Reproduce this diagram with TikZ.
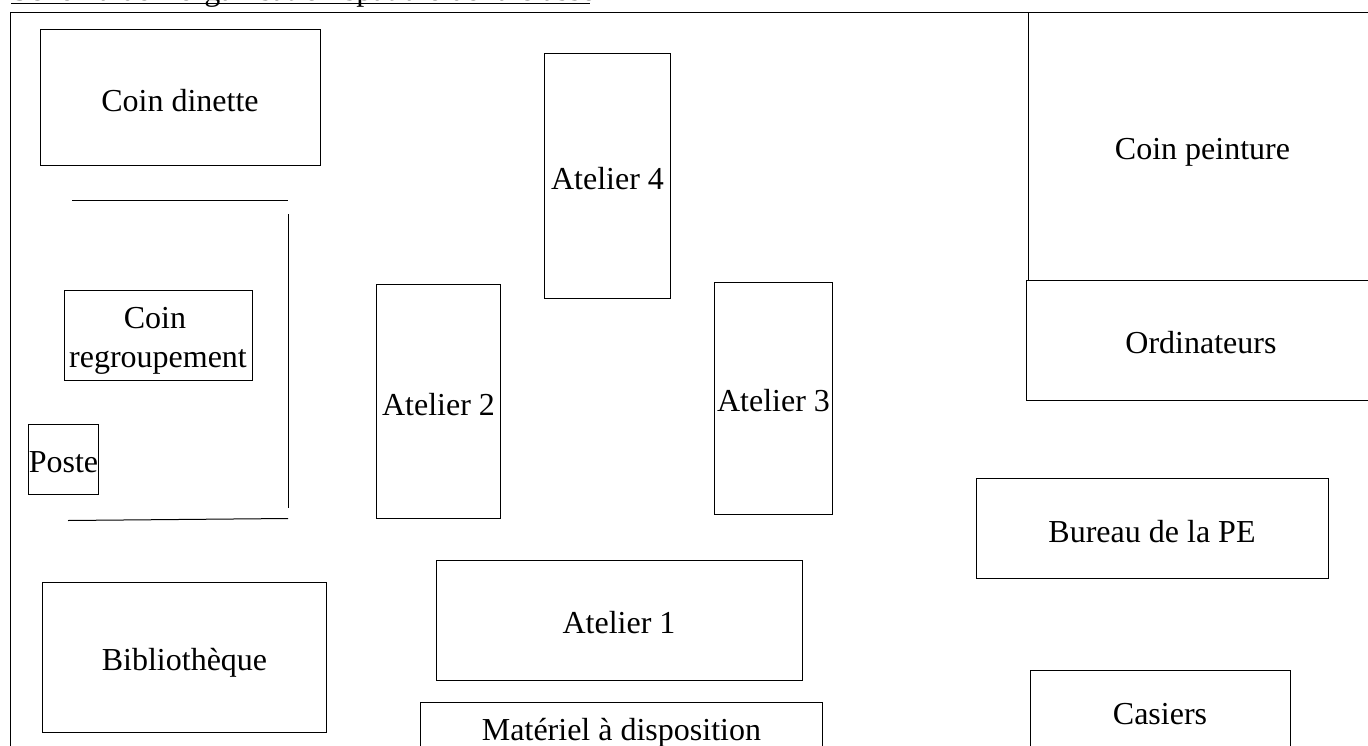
\documentclass[tikz,border=0pt]{standalone}
\usepackage{fontspec}
\setmainfont{Liberation Serif}
\tikzset{
 px/.style={x=0.75pt,y=-0.75pt},
 box/.style={draw=black,line width=0.75pt,fill=white},
 lab/.style={font=\fontsize{24}{29}\selectfont,align=center,inner sep=0pt,text=black,anchor=base},
 wall/.style={draw=black,line width=0.75pt}
}
\begin{document}
\begin{tikzpicture}[px]
\useasboundingbox (0,0) rectangle (1368,746);
\begin{scope}
\clip (0,0) rectangle (1368,746);
\fill[white] (0,0) rectangle (1368,746);
\node[lab,anchor=base west] (titre) at (11,0.5) {Schéma de l'organisation spatiale de la classe};
\coordinate (ula) at (11,3.5);
\coordinate (ulb) at (590,3.5);
\draw[wall] (ula) -- (ulb);
\coordinate (ca) at (10.5,760);
\coordinate (cb) at (10.5,12.5);
\coordinate (cc) at (1380,12.5);
\draw[wall] (ca) -- (cb) -- (cc);
\draw[box] (1028.5,12.5) rectangle (1380,280.5);
\node[lab] (peinture) at (1202.5,159.6) {Coin peinture};
\draw[box] (1026.5,280.5) rectangle (1380,400.5);
\node[lab] (ordi) at (1201,353.6) {Ordinateurs};
\draw[box] (40.5,29.5) rectangle (320.5,165.5);
\node[lab] (dinette) at (180,111.6) {Coin dinette};
\draw[box] (544.5,53.5) rectangle (670.5,298.5);
\node[lab] (a4) at (607.5,189.6) {Atelier 4};
\coordinate (w1a) at (72,200.5); \coordinate (w1b) at (288,200.5);
\draw[wall] (w1a) -- (w1b);
\coordinate (w2a) at (288.5,214); \coordinate (w2b) at (288.5,508);
\draw[wall] (w2a) -- (w2b);
\coordinate (w3a) at (68,520.5); \coordinate (w3b) at (288,518.5);
\draw[wall] (w3a) -- (w3b);
\draw[box] (64.5,290.5) rectangle (252.5,380.5);
\node[lab,anchor=center] (regr) at (158,341) {Coin\hspace*{4.5pt}\\regroupement};
\draw[box] (28.5,424.5) rectangle (98.5,494.5);
\node[lab] (poste) at (63.5,472.6) {Poste};
\draw[box] (376.5,284.5) rectangle (500.5,518.5);
\node[lab] (a2) at (438.5,415.6) {Atelier 2};
\draw[box] (714.5,282.5) rectangle (832.5,514.5);
\node[lab] (a3) at (773.5,411.6) {Atelier 3};
\draw[box] (976.5,478.5) rectangle (1328.5,578.5);
\node[lab] (bureau) at (1152,542.6) {Bureau de la PE};
\draw[box] (436.5,560.5) rectangle (802.5,680.5);
\node[lab] (a1) at (619,633.6) {Atelier 1};
\draw[box] (42.5,582.5) rectangle (326.5,732.5);
\node[lab] (biblio) at (184.5,670.6) {Bibliothèque};
\draw[box] (420.5,702.5) rectangle (822.5,760);
\node[lab] (mat) at (621.5,740) {Matériel à disposition};
\draw[box] (1030.5,670.5) rectangle (1290.5,760);
\node[lab] (cas) at (1160,724.6) {Casiers};
\end{scope}
\end{tikzpicture}
\end{document}
